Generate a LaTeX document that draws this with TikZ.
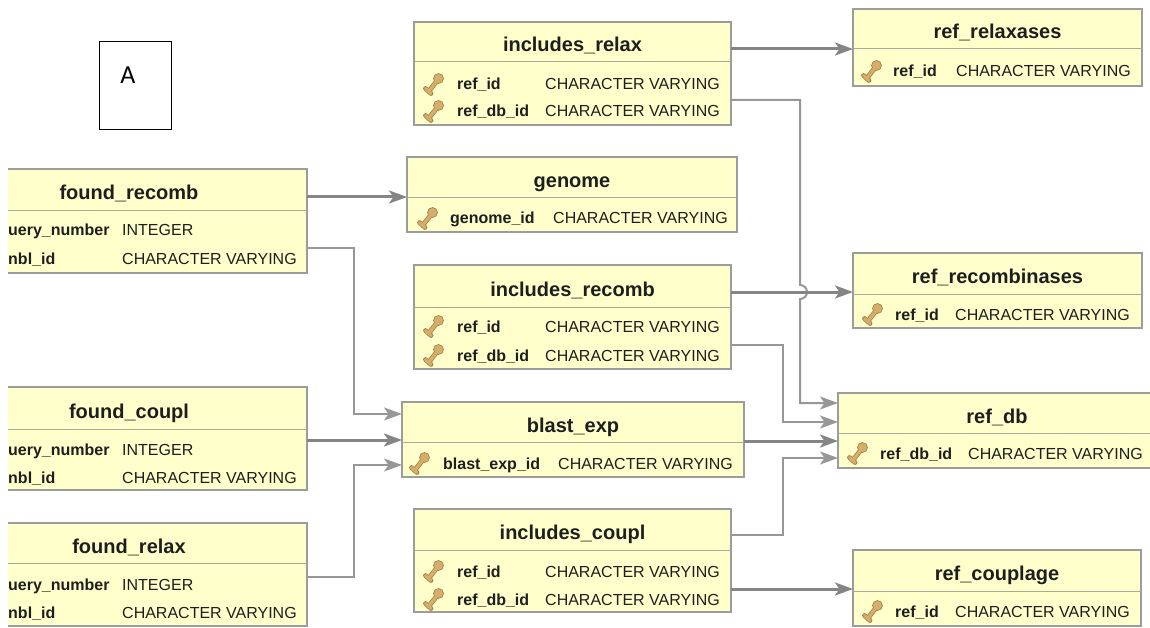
\documentclass[tikz,border=0pt]{standalone}
\usepackage{fontspec}
\setmainfont{Liberation Sans}
\newfontfamily\calib{Carlito}
\usetikzlibrary{arrows.meta,calc}
\definecolor{tblfill}{HTML}{FFFFCC}
\definecolor{tblline}{HTML}{9C9C9C}
\definecolor{divcol}{HTML}{A9A99A}
\definecolor{fkcol}{HTML}{858585}
\definecolor{fkthincol}{HTML}{979797}
\definecolor{keyfill}{HTML}{D6AE6B}
\definecolor{keyline}{HTML}{A98045}
\definecolor{txt}{HTML}{1E1E1E}
\tikzset{
  tblbox/.style={draw=tblline, fill=tblfill, line width=1.5pt, inner sep=0pt, outer sep=0pt, anchor=north west},
  tbltitle/.style={font=\fontsize{20}{24}\selectfont\bfseries, text=txt, inner sep=0pt, anchor=base},
  colname/.style={font=\fontsize{16}{19}\selectfont\bfseries, text=txt, inner sep=0pt, anchor=base west},
  coltype/.style={font=\fontsize{16}{19}\selectfont, text=txt, inner sep=0pt, anchor=base west},
  fk/.style={draw=fkcol, line width=3pt, -{Stealth[length=18pt,width=13pt,inset=4.5pt]}},
  fkthin/.style={draw=fkthincol, line width=2pt, -{Stealth[length=18pt,width=13pt,inset=4.5pt]}},
  keyicon/.pic={
    \fill[keyline] (4.5,-5.5) circle (5.4);
    \draw[keyline, line width=4.8pt, line cap=round] (2,-2) -- (-5,7);
    \draw[keyline, line width=4.8pt, line cap=round] (-8.5,4.5) -- (-3,9.5);
    \fill[keyfill] (4.5,-5.5) circle (4.5);
    \draw[keyfill, line width=3.2pt, line cap=round] (2,-2) -- (-5,7);
    \draw[keyfill, line width=3.2pt, line cap=round] (-8.5,4.5) -- (-3,9.5);
  }
}
% #1 name, #2 x1, #3 y1, #4 x2, #5 y2, #6 ydiv, #7 title
\newcommand\dbtab[7]{%
  \node[tblbox, minimum width={#4-#2}, minimum height={#5-#3}] (#1) at (#2,#3) {};
  \draw[divcol, line width=1pt] (#2,#6) -- (#4,#6);
  \node[tbltitle] (#1-t) at ({(#2+#4)/2},{(#3+#6)/2+10}) {#7};
}
% #1 row name, #2 key x, #3 name x, #4 type x, #5 y centre, #6 column, #7 type
\newcommand\keyrow[7]{%
  \pic at (#2,#5) {keyicon};
  \node[colname] (#1-n) at (#3,#5+6) {#6};
  \node[coltype] (#1-c) at (#4,#5+6) {#7};
}
\begin{document}
\begin{tikzpicture}[x=1pt,y=-1pt]
\useasboundingbox (0,0) rectangle (1150,628);
\clip (8,-2) rectangle (1150,630);

% label box A
\node[draw=black, line width=1pt, minimum width=72, minimum height=88, inner sep=0pt, anchor=north west] (abox) at (99,41) {};
\node[font=\calib\fontsize{26}{30}\selectfont, inner sep=0pt, anchor=base] (alab) at (128,84) {A};

% tables
\dbtab{ir}{414}{22}{731}{125}{62}{includes\_relax}
\keyrow{ir1}{434}{457}{545}{84}{ref\_id}{CHARACTER VARYING}
\keyrow{ir2}{434}{457}{545}{111}{ref\_db\_id}{CHARACTER VARYING}

\dbtab{rrx}{853}{9}{1142}{86}{49}{ref\_relaxases}
\keyrow{rrx1}{872}{893}{956}{71}{ref\_id}{CHARACTER VARYING}

\dbtab{gn}{407}{157}{737}{232}{198}{genome}
\keyrow{gn1}{428}{450}{553}{218}{genome\_id}{CHARACTER VARYING}

\dbtab{fr}{-49}{169}{307}{273}{211}{found\_recomb}
\node[colname] (fr1-n) at (8,236) {uery\_number};
\node[coltype] (fr1-c) at (122,236) {INTEGER};
\node[colname] (fr2-n) at (8,265) {nbl\_id};
\node[coltype] (fr2-c) at (122,265) {CHARACTER VARYING};

\dbtab{irc}{414}{265}{731}{369}{307}{includes\_recomb}
\keyrow{irc1}{434}{457}{545}{326}{ref\_id}{CHARACTER VARYING}
\keyrow{irc2}{434}{457}{545}{355}{ref\_db\_id}{CHARACTER VARYING}

\dbtab{rrc}{853}{253}{1142}{328}{294}{ref\_recombinases}
\keyrow{rrc1}{873}{895}{955}{314}{ref\_id}{CHARACTER VARYING}

\dbtab{fc}{-49}{387}{307}{490}{429}{found\_coupl}
\node[colname] (fc1-n) at (8,455) {uery\_number};
\node[coltype] (fc1-c) at (122,455) {INTEGER};
\node[colname] (fc2-n) at (8,483) {nbl\_id};
\node[coltype] (fc2-c) at (122,483) {CHARACTER VARYING};

\dbtab{be}{402}{402}{744}{477}{442}{blast\_exp}
\keyrow{be1}{420}{443}{558}{463}{blast\_exp\_id}{CHARACTER VARYING}

\dbtab{rdb}{838}{393}{1156}{468}{433}{ref\_db}
\keyrow{rdb1}{858}{880}{968}{453}{ref\_db\_id}{CHARACTER VARYING}

\dbtab{fx}{-49}{523}{307}{626}{563}{found\_relax}
\node[colname] (fx1-n) at (8,590) {uery\_number};
\node[coltype] (fx1-c) at (122,590) {INTEGER};
\node[colname] (fx2-n) at (8,618) {nbl\_id};
\node[coltype] (fx2-c) at (122,618) {CHARACTER VARYING};

\dbtab{icp}{414}{509}{731}{612}{550}{includes\_coupl}
\keyrow{icp1}{434}{457}{545}{571}{ref\_id}{CHARACTER VARYING}
\keyrow{icp2}{434}{457}{545}{599}{ref\_db\_id}{CHARACTER VARYING}

\dbtab{rcp}{853}{550}{1141}{626}{591}{ref\_couplage}
\keyrow{rcp1}{873}{895}{955}{611}{ref\_id}{CHARACTER VARYING}

% connectors
\coordinate (c1) at ($(ir.north east)+(0,27)$);
\draw[fk] (c1) -- (c1 -| rrx.west);

\coordinate (c3) at ($(irc.north east)+(0,27)$);
\coordinate (c2) at ($(ir.north east)+(0,78)$);
\coordinate (v2) at ($(rdb.north west)+(-38,10)$);
\coordinate (hop) at (c3 -| v2);
\draw[fkthin] (c2) -- (c2 -| v2) -- ($(hop)+(0,-7)$) arc[start angle=270, end angle=450, radius=7] -- (v2) -- (v2 -| rdb.west);

\draw[fk] (c3) -- (c3 -| rrc.west);

\coordinate (c4) at ($(irc.north east)+(0,80)$);
\coordinate (v4) at ($(rdb.north west)+(-55,29)$);
\draw[fkthin] (c4) -| (v4) -- (v4 -| rdb.west);

\coordinate (c5) at ($(be.north east)+(0,39)$);
\draw[fk] (c5) -- (c5 -| rdb.west);

\coordinate (c6) at ($(icp.north east)+(0,26)$);
\coordinate (v6) at ($(rdb.north west)+(-55,65)$);
\draw[fkthin] (c6) -| (v6) -- (v6 -| rdb.west);

\coordinate (c7) at ($(icp.north east)+(0,80)$);
\draw[fk] (c7) -- (c7 -| rcp.west);

\coordinate (c8) at ($(fr.north east)+(0,28)$);
\draw[fk] (c8) -- (c8 -| gn.west);

\coordinate (c9) at ($(fr.north east)+(0,79)$);
\coordinate (v9) at ($(be.north west)+(-48,12)$);
\draw[fkthin] (c9) -| (v9) -- (v9 -| be.west);

\coordinate (c10) at ($(fc.north east)+(0,53)$);
\draw[fk] (c10) -- (c10 -| be.west);

\coordinate (c11) at ($(fx.north east)+(0,54)$);
\coordinate (v11) at ($(be.north west)+(-48,63)$);
\draw[fkthin] (c11) -| (v11) -- (v11 -| be.west);
\end{tikzpicture}
\end{document}
